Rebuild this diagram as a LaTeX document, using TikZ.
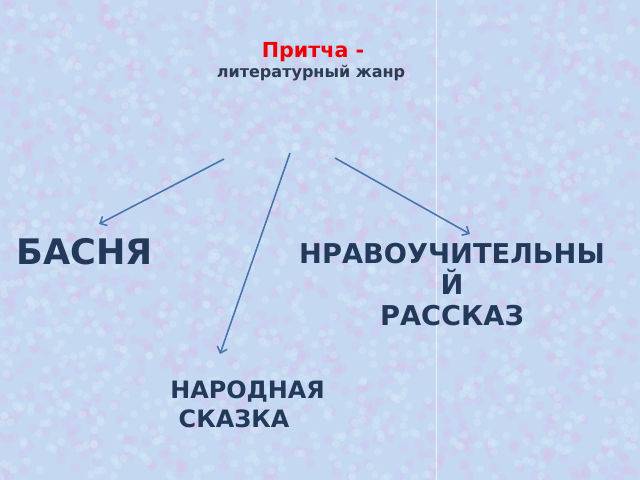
\documentclass[tikz,border=0pt]{standalone}
\usepackage{fontspec}
\setmainfont{DejaVu Sans}
\usetikzlibrary{arrows.meta}
\definecolor{bgblue}{HTML}{C4D8F2}
\definecolor{bgpink}{HTML}{D8C2EA}
\definecolor{bglight}{HTML}{D6EAF8}
\definecolor{labelblue}{HTML}{22395A}
\definecolor{subgrey}{HTML}{2E3C50}
\definecolor{arrowblue}{HTML}{4A72AC}
\definecolor{titlered}{HTML}{F00000}
\tikzset{
  genre/.style={font=\bfseries\fontsize{17}{22}\selectfont, text=labelblue, inner sep=0pt},
  branch/.style={draw=arrowblue, line width=1.1pt, -{Straight Barb[length=1.4mm,width=2.6mm]}},
}
\begin{document}
\begin{tikzpicture}[x=0.025cm,y=-0.025cm]
\useasboundingbox (0,0) rectangle (640,480);
% background
\fill[bgblue] (0,0) rectangle (640,480);
\pgfmathsetseed{11}
\foreach \i in {1,...,1400}{
  \pgfmathsetmacro\px{640*rnd}
  \pgfmathsetmacro\py{480*rnd}
  \fill[bgpink, opacity=0.35] (\px,\py) circle (5);
}
\foreach \i in {1,...,1400}{
  \pgfmathsetmacro\px{640*rnd}
  \pgfmathsetmacro\py{480*rnd}
  \fill[bglight, opacity=0.4] (\px,\py) circle (4);
}
\draw[white, opacity=0.7, line width=0.6pt] (436,0) -- (436,480);

% title
\node[inner sep=0pt, text=titlered, font=\bfseries\fontsize{14.7}{17}\selectfont] (title) at (313,52) {Притча -};
\node[inner sep=0pt, text=subgrey, font=\bfseries\fontsize{11.4}{13}\selectfont] (subtitle) at (311,73) {литературный жанр};

% genres
\node[genre, font=\bfseries\fontsize{25}{28}\selectfont, anchor=west] (basnya) at (16,252) {БАСНЯ};
\node[genre, align=center, font=\bfseries\fontsize{19.4}{22}\selectfont] (rasskaz) at (452,285) {НРАВОУЧИТЕЛЬНЫ\\Й\\РАССКАЗ};
\node[genre, align=left, anchor=north west, font=\bfseries\fontsize{17}{21.3}\selectfont] (skazka) at (170,380) {НАРОДНАЯ\\\hspace*{6pt}СКАЗКА};

% arrows
\coordinate (fromL) at (224,159);
\coordinate (fromM) at (290,153);
\coordinate (fromR) at (335,158);
\coordinate (toL) at (99,224);
\coordinate (toM) at (220,354);
\coordinate (toR) at (470,234);
\draw[branch] (fromL) -- (toL);
\draw[branch] (fromM) -- (toM);
\draw[branch] (fromR) -- (toR);
\end{tikzpicture}
\end{document}
